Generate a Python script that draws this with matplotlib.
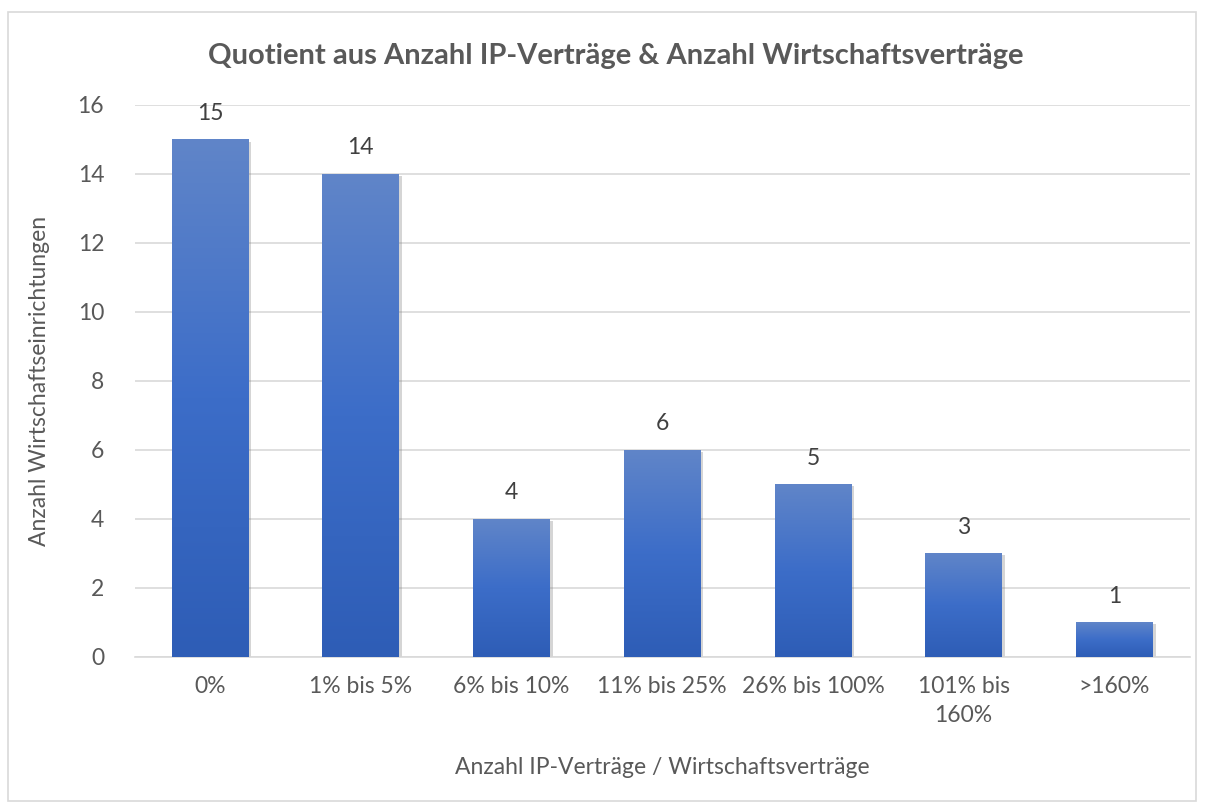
import numpy as np
import matplotlib
matplotlib.use("Agg")
import matplotlib.pyplot as plt
import matplotlib.patheffects as pe
from matplotlib.colors import LinearSegmentedColormap
from matplotlib.patches import Rectangle

kategorien = ["0%", "1% bis 5%", "6% bis 10%", "11% bis 25%", "26% bis 100%", "101% bis\n160%", ">160%"]
anzahl = [15, 14, 4, 6, 5, 3, 1]

plt.rcParams['font.family'] = ['Lato', 'DejaVu Sans']
grau = '#595959'

fig = plt.figure(figsize=(12.14, 8.05), dpi=100)
ax = fig.add_axes([0.111, 0.184, 0.869, 0.6856])

# Rahmen um das Diagramm
fig.patches.append(Rectangle((8 / 1214, 4 / 805), 1188 / 1214, 789 / 805, transform=fig.transFigure,
                             fill=False, edgecolor='#D9D9D9', linewidth=1.2))

x = np.arange(len(kategorien))
bars = ax.bar(x, anzahl, width=0.51, color='#3C6DC8', zorder=2,
              path_effects=[pe.SimplePatchShadow(offset=(2, -1.5), shadow_rgbFace='#777777', alpha=0.3), pe.Normal()])

# Farbverlauf in jedem Balken (unten dunkel, oben hell)
cmap = LinearSegmentedColormap.from_list('blau', ['#2E5DB6', '#3C6DC8', '#6085C9'])
grad = np.linspace(0, 1, 256).reshape(-1, 1)
for b in bars:
    x0 = b.get_x()
    w, h = b.get_width(), b.get_height()
    im = ax.imshow(grad, extent=(x0, x0 + w, 0, h), origin='lower', cmap=cmap, aspect='auto', zorder=3)
    im.set_clip_path(b)

for xi, v in zip(x, anzahl):
    ax.text(xi, v + 0.45, str(v), ha='center', va='bottom', fontsize=16.5, color='#404040')

ax.set_xlim(-0.5, len(kategorien) - 0.5)
ax.set_ylim(0, 16)
ax.set_yticks(range(0, 17, 2))
ax.set_xticks(x)
ax.set_xticklabels(kategorien, linespacing=1.45)
ax.tick_params(axis='both', length=0, labelsize=16.5, labelcolor=grau)
ax.tick_params(axis='x', pad=14)
ax.tick_params(axis='y', pad=22)
ax.grid(axis='y', color='#D9D9D9', linewidth=1.2, zorder=0)
ax.set_axisbelow(True)
for s in ['top', 'right', 'left']:
    ax.spines[s].set_visible(False)
ax.spines['bottom'].set_color('#D9D9D9')
ax.spines['bottom'].set_linewidth(1.2)

ax.set_xlabel("Anzahl IP-Verträge / Wirtschaftsverträge", fontsize=16.5, color=grau, labelpad=22)
ax.set_ylabel("Anzahl Wirtschaftseinrichtungen", fontsize=16.5, color=grau, labelpad=20)
fig.text(0.507, 0.93, "Quotient aus Anzahl IP-Verträge & Anzahl Wirtschaftsverträge",
         ha='center', va='center', fontsize=21, fontweight='bold', color=grau)

fig.savefig("out.png", dpi=100, facecolor='white')
